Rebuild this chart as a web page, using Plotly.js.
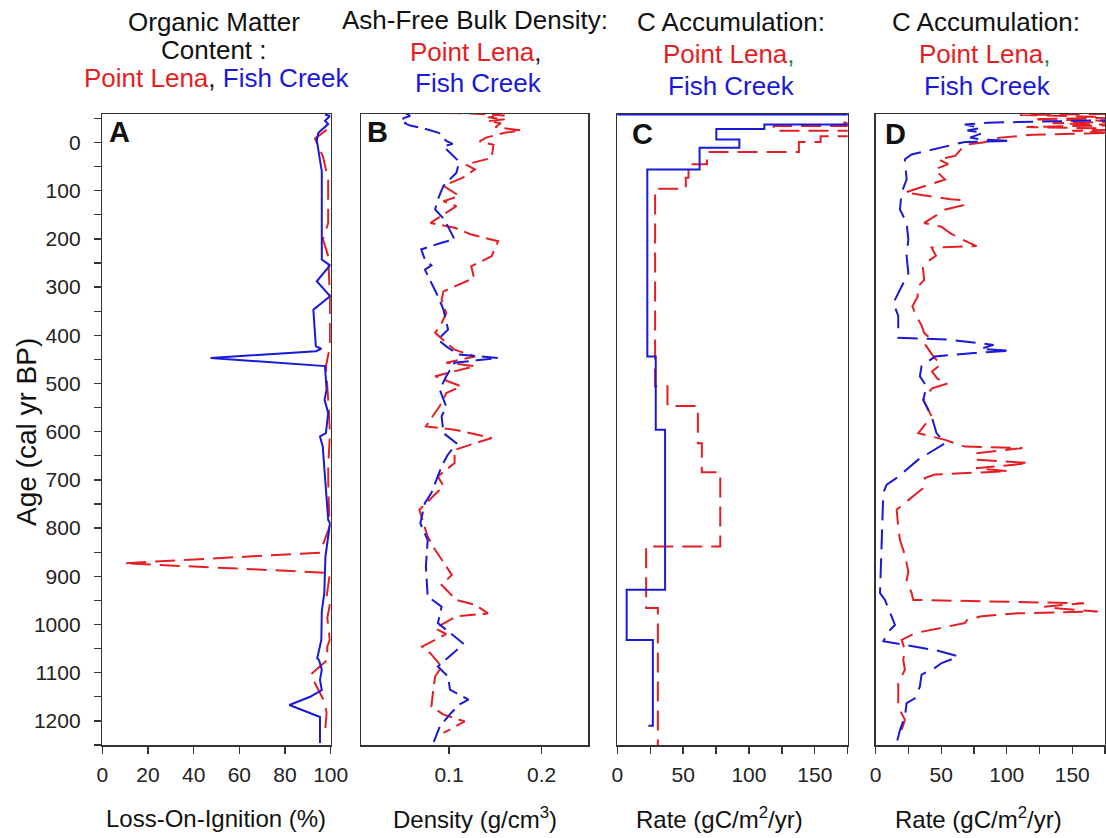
<!DOCTYPE html>
<html><head><meta charset="utf-8">
<script src="https://cdn.plot.ly/plotly-3.0.1.min.js"></script>
<style>html,body{margin:0;padding:0;background:#fff}#chart{width:1106px;height:838px}</style>
</head><body><div id="chart"></div>
<script>
// ---------- Panel A: Loss-On-Ignition (%) ----------
const fcLoiAge = [-58,-55,-45,-38,-20,-5,60,160,243,255,288,319,347,423,428,433,447,464,513,534,561,603,610,630,693,783,790,859,934,973,1032,1070,1074,1094,1115,1136,1150,1167,1192,1246];
const fcLoi    = [97.5,99.7,97.5,98.9,94.6,93.9,96.1,96.1,96.1,99.7,93.9,99.7,92.4,93.5,95.9,93.5,47.4,97.5,98.2,97.3,98.9,97.9,95.3,96.5,97.5,98.9,99.7,97.7,97.2,96.1,95.9,94.1,94.9,96.1,95.3,96.1,91,81.9,95.3,95.3];
const plLoiAge = [-26,-8,29,77,167,201,236,326,423,464,534,603,672,730,796,851,873,893,949,960,986,1032,1046,1074,1092,1104,1142,1163,1184,1225];
const plLoi    = [98.2,93.1,96.6,98.9,98.9,96.6,98.9,99.7,99.7,97.9,98.9,99.7,98.9,99,99.6,95.3,9.5,99.7,98,99.6,98.5,99.6,98.5,98.5,94.1,91.2,95.3,97.5,98.2,97.5];

// ---------- Panel B: Ash-free bulk density (g/cm3) ----------
const fcDenAge = [-62,-55,-50,-45,-40,-35,-30,-20,-3,3,
  8,35,40,63,90,118,139,160,201,208,
  222,243,255,264,291,319,347,388,409,423,
  440,447,452,457,485,513,548,568,603,624,
  650,672,727,748,790,825,880,942,963,997,
  1039,1050,1087,1108,1135,1156,1165,1184,1212,1246];
const fcDen = [0.052,0.058,0.050,0.056,0.052,0.058,0.071,0.089,0.097,0.104,
  0.094,0.108,0.111,0.108,0.094,0.088,0.085,0.095,0.106,0.092,
  0.070,0.074,0.081,0.074,0.081,0.088,0.094,0.099,0.088,0.097,
  0.110,0.153,0.130,0.106,0.097,0.090,0.097,0.092,0.094,0.108,
  0.098,0.092,0.081,0.074,0.069,0.077,0.075,0.077,0.092,0.088,
  0.115,0.110,0.088,0.099,0.101,0.121,0.112,0.102,0.090,0.083];
const plDenAge = [-62,-60,-56,-52,-48,-44,-40,-32,-25,-20,
  -10,-2,5,32,46,56,73,90,111,122,
  132,167,177,191,205,236,257,281,309,326,
  354,375,395,430,444,457,464,485,506,520,
  541,589,596,613,624,638,665,693,713,762,
  818,845,897,918,949,959,977,983,1008,1020,
  1046,1060,1087,1108,1135,1170,1187,1201,1225];
const plDen = [0.072,0.124,0.160,0.142,0.160,0.142,0.156,0.150,0.178,0.160,
  0.140,0.133,0.148,0.146,0.118,0.128,0.115,0.094,0.111,0.094,
  0.108,0.080,0.106,0.124,0.153,0.146,0.124,0.127,0.094,0.092,
  0.097,0.092,0.085,0.106,0.128,0.097,0.128,0.085,0.113,0.097,
  0.092,0.075,0.106,0.146,0.128,0.106,0.106,0.088,0.094,0.068,
  0.077,0.085,0.103,0.092,0.108,0.128,0.142,0.108,0.085,0.097,
  0.071,0.080,0.092,0.085,0.083,0.081,0.094,0.117,0.094];

// ---------- Panel C: C accumulation, interval (step) rates ----------
const fcAccAge = [-60,-58,-37,-28,-6,11,56,444,596,928,1032,1210];
const fcAcc    = [0,250,111.7,75.2,92.7,62.5,22.8,29.2,36.3,7.1,27,23.6];
const plAccAge = [-60,-59,-45,-40,-34,-24,-13,-1,20,45,73,96,506,547,624,684,838,966,1250];
const plAcc    = [91,250,172.6,250,118.8,250,154.4,137.9,68.1,54.1,52,28.7,38.1,61.2,64.2,78.2,21.9,30.8,30.8];

// ---------- Panel D: C accumulation rate per sample ----------
const fcRateAge = [-62,-60,-50,-41,-37,-30,-25,-20,-10,-6,
  -3,-1,25,35,77,104,139,167,201,236,
  271,298,333,360,405,409,420,428,432,437,
  444,464,485,506,534,568,603,624,658,696,
  710,727,832,935,949,1001,1015,1035,1053,1066,
  1071,1080,1090,1104,1129,1153,1163,1191,1219,1246];
const fcRate = [118,250,250,85.6,68,80,70,82,72,80.7,
  103.6,68,27.4,22.3,23.6,19.8,18.5,23.6,24.9,23.6,
  24.9,19.8,13.5,17.2,17.2,55,90,80,103,75,
  45.3,35,33.7,38.8,36.3,42.6,46.4,52.9,32.5,16,
  8.4,5.8,4.5,3.3,7.1,14.7,9.6,5.8,45.2,62.9,
  59,50.3,45.2,35,33.7,29.9,23.6,22.3,18.5,16];
const plRateAge = [-60,-57,-52,-48,-44,-40,-36,-32,-28,-24,
  -20,-16,-10,0,5,28,35,45,56,77,
  104,111,118,120,130,140,150,167,175,190,
  200,215,218,235,250,260,285,300,320,340,
  360,380,395,405,420,440,450,460,475,490,
  500,510,534,568,582,603,617,631,634,645,
  658,665,670,676,682,689,696,717,731,748,
  762,797,825,856,890,908,935,949,956,963,
  967,973,977,983,990,997,1018,1032,1053,1073,
  1094,1122,1170,1198,1219];
const plRate = [200,110,190,120,200,135,190,115,200,150,
  180,120,95,82,68,60.7,47.7,55.3,45.1,52.9,
  22.3,38,57,68,67,52,47,37,50,58,
  65,77,42.6,46,38,36,37,32,32,28,
  31,35,37,41,38,43,46,50,43,47,
  55,43,36.3,42.6,38.8,32.5,52.9,68,112,75.6,
  76.4,117,100,76.6,101,45.1,37.5,36.3,29.9,22.3,
  16,17.2,18.5,22.3,24.9,23.6,27.4,28.7,159,128.6,
  140,169.5,106.1,80.7,70,68,29.9,19.8,22.3,21,
  22.3,17.2,17.2,22.3,19.8];

const yTickVals = [0,100,200,300,400,500,600,700,800,900,1000,1100,1200];
const yTickText = yTickVals.map(String);

const RED = 'rgb(228,30,35)', BLUE = 'rgb(25,25,215)', GREEN = 'rgb(30,140,40)';
const DASH = '20px,9px';
const FONT = 'Liberation Sans, Arial, sans-serif';

const traces = [
  {x: plLoi, y: plLoiAge, xaxis:'x', yaxis:'y', mode:'lines', line:{color:RED, width:2, dash:DASH}},
  {x: fcLoi, y: fcLoiAge, xaxis:'x', yaxis:'y', mode:'lines', line:{color:BLUE, width:2}},
  {x: plDen, y: plDenAge, xaxis:'x2', yaxis:'y2', mode:'lines', line:{color:RED, width:2, dash:'16px,7px'}},
  {x: fcDen, y: fcDenAge, xaxis:'x2', yaxis:'y2', mode:'lines', line:{color:BLUE, width:2, dash:'16px,7px'}},
  {x: plAcc, y: plAccAge, xaxis:'x3', yaxis:'y3', mode:'lines', line:{color:RED, width:2, dash:DASH, shape:'vh'}},
  {x: fcAcc, y: fcAccAge, xaxis:'x3', yaxis:'y3', mode:'lines', line:{color:BLUE, width:2, shape:'vh'}},
  {x: plRate, y: plRateAge, xaxis:'x4', yaxis:'y4', mode:'lines', line:{color:RED, width:2, dash:DASH}},
  {x: fcRate, y: fcRateAge, xaxis:'x4', yaxis:'y4', mode:'lines', line:{color:BLUE, width:2, dash:DASH}}
];

const W = 1106, H = 838;
const px = v => v / W, py = v => 1 - v / H;
const yDom = [py(745), py(114)];
const yRange = [1250, -59];

function xax(dom, range, extra) {
  return Object.assign({
    domain: dom, range: range, showgrid:false, zeroline:false,
    showline:true, mirror:true, linecolor:'#333', linewidth:1.5,
    ticks:'outside', ticklen:7, tickwidth:1.3, tickcolor:'#333',
    tickfont:{family:FONT, size:21, color:'#222'}, ticklabelstandoff:3
  }, extra);
}
function yax(anchor, showLabels) {
  const o = {
    domain: yDom, range: yRange, anchor: anchor, showgrid:false, zeroline:false,
    showline:true, mirror:true, linecolor:'#333', linewidth:1.5
  };
  if (showLabels) {
    Object.assign(o, {ticks:'outside', ticklen:7, tickwidth:1.3, tickcolor:'#333',
      tickvals: yTickVals, ticktext: yTickText,
      tickfont:{family:FONT, size:21, color:'#222'}, ticklabelstandoff:9,
      minor:{dtick:50, tick0:0, ticks:'outside', ticklen:7, tickwidth:1.3, tickcolor:'#333'}});
  } else {
    Object.assign(o, {showticklabels:false, ticks:''});
  }
  return o;
}

const layout = {
  width: W, height: H, margin:{l:0, r:0, t:0, b:0},
  paper_bgcolor:'#fff', plot_bgcolor:'#fff', showlegend:false,
  xaxis:  xax([px(102.3), px(330.7)], [0, 100], {anchor:'y', tickvals:[0,20,40,60,80,100]}),
  xaxis2: xax([px(361), px(588)], [0.005, 0.25], {anchor:'y2', tickvals:[0.1,0.2], ticktext:['0.1','0.2']}),
  xaxis3: xax([px(617.3), px(847.7)], [0, 175], {anchor:'y3', tickvals:[0,50,100,150],
      minor:{tickvals:[25,75,125,175], ticks:'outside', ticklen:7, tickwidth:1.3, tickcolor:'#333'}}),
  xaxis4: xax([px(875.7), px(1105)], [0, 175], {anchor:'y4', tickvals:[0,50,100,150],
      minor:{tickvals:[25,75,125,175], ticks:'outside', ticklen:7, tickwidth:1.3, tickcolor:'#333'}}),
  yaxis:  yax('x', true),
  yaxis2: yax('x2', false),
  yaxis3: yax('x3', false),
  yaxis4: yax('x4', false),
  annotations: []
};

function ann(text, xpx, ypx, size, opts, color) {
  layout.annotations.push(Object.assign({
    text: text, xref:'paper', yref:'paper', x: px(xpx), y: py(ypx),
    xanchor:'center', yanchor:'middle', showarrow:false,
    font:{family:FONT, size:size, color: color || '#111'}
  }, opts || {}));
}
const red = t => `<span style="color:${RED}">${t}</span>`;
const blue = t => `<span style="color:${BLUE}">${t}</span>`;
const green = t => `<span style="color:${GREEN}">${t}</span>`;
const HS = 26;

// headers
ann('Organic Matter', 214, 22, HS);
ann('Content :', 214, 50, HS);
ann(red('Point Lena') + ', ' + blue('Fish Creek'), 216, 78, HS);
ann('Ash-Free Bulk Density:', 475, 20, HS);
ann(red('Point Lena') + ',', 476, 52, HS);
ann('Fish Creek', 478, 83, HS, {}, BLUE);
ann('C Accumulation:', 731, 22, HS);
ann(red('Point Lena') + green(','), 729, 54, HS);
ann('Fish Creek', 731, 86, HS, {}, BLUE);
ann('C Accumulation:', 986, 22, HS);
ann(red('Point Lena') + green(','), 985, 54, HS);
ann('Fish Creek', 987, 86, HS, {}, BLUE);

// panel letters
ann('<b>A</b>', 107, 132, 29, {xanchor:'left'});
ann('<b>B</b>', 365, 132, 29, {xanchor:'left'});
ann('<b>C</b>', 630, 134, 29, {xanchor:'left'});
ann('<b>D</b>', 883, 134, 29, {xanchor:'left'});

// axis titles
ann('Age (cal yr BP)', 26, 432, 28, {textangle:-90});
ann('Loss-On-Ignition (%)', 216, 818, 24);
ann('Density (g/cm<sup>3</sup>)', 475, 818, 24);
ann('Rate (gC/m<sup>2</sup>/yr)', 719, 818, 24);
ann('Rate (gC/m<sup>2</sup>/yr)', 978, 818, 24);

Plotly.newPlot('chart', traces, layout, {staticPlot:true, displayModeBar:false});
</script>
</body></html>
